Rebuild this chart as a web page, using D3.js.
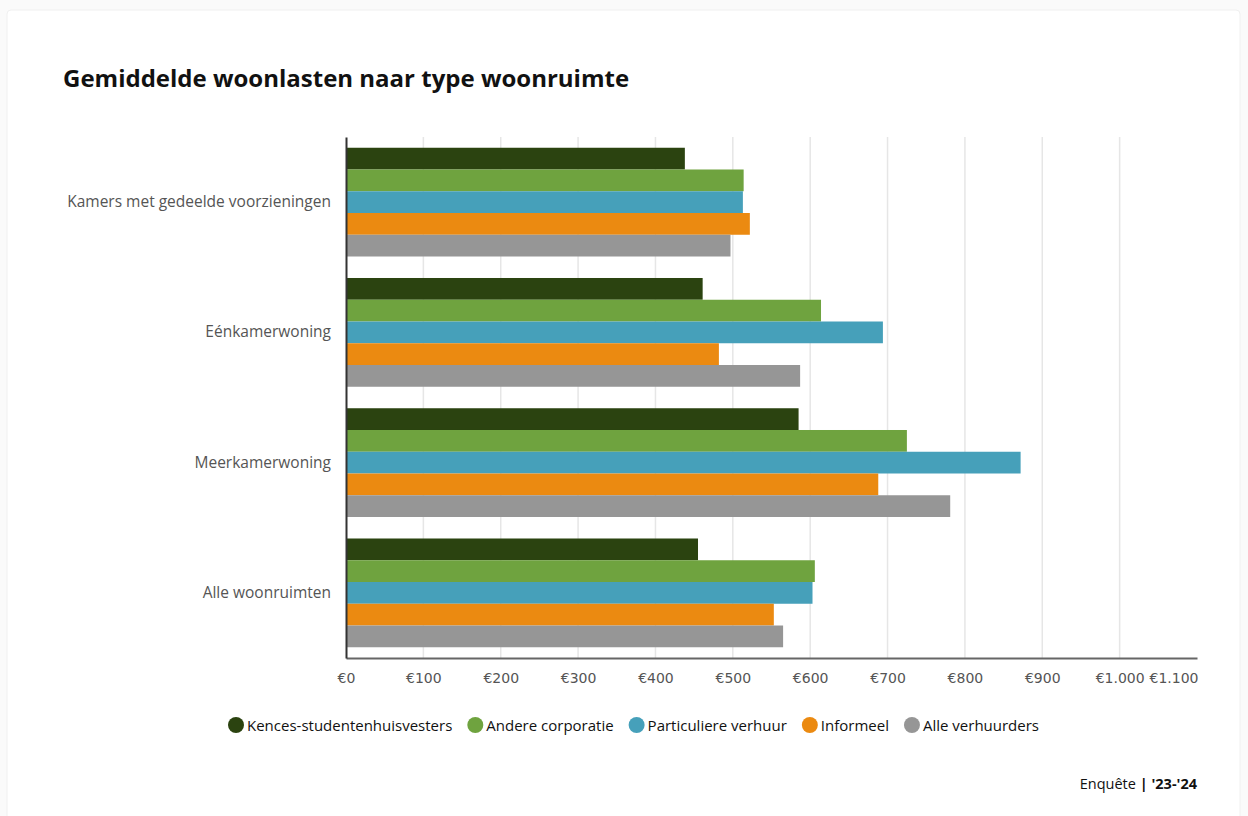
<!DOCTYPE html>
<html>
<head>
<meta charset="utf-8">
<script src="https://cdn.jsdelivr.net/npm/d3@7"></script>
<style>
  body { margin: 0; background: #fafafa; }
  #chart_container { width: 1248px; height: 816px; }
</style>
</head>
<body>
<div id="chart_container"></div>
<script>
// the data
const categories = ["Kamers met gedeelde voorzieningen", "Eénkamerwoning", "Meerkamerwoning", "Alle woonruimten"];
const series = ["Kences-studentenhuisvesters", "Andere corporatie", "Particuliere verhuur", "Informeel", "Alle verhuurders"];
const kences = [438, 461, 585, 455];
const andere = [514, 614, 725, 606];
const particulier = [513, 694, 872, 603];
const informeel = [522, 482, 688, 553];
const alle = [497, 587, 781, 565];
const ticks = [0, 100, 200, 300, 400, 500, 600, 700, 800, 900, 1000, 1100];
const colors = ["#2b4310", "#6fa33f", "#46a0ba", "#eb8a11", "#969696"];

const values = [kences, andere, particulier, informeel, alle];

const width = 1248;
const height = 816;
const font = "'Source Sans Pro', 'Open Sans', 'Noto Sans', sans-serif";

const svg = d3.select("#chart_container")
              .append("svg")
              .attr("width", width)
              .attr("height", height);

// card
svg.append("rect")
   .attr("x", 7).attr("y", 10)
   .attr("width", 1233).attr("height", 820)
   .attr("rx", 4)
   .attr("fill", "white")
   .attr("stroke", "#f0f0f0");

svg.append("text")
   .attr("x", 63).attr("y", 87)
   .attr("font-family", font)
   .attr("font-weight", "bold")
   .attr("font-size", "24px")
   .attr("fill", "#111")
   .text("Gemiddelde woonlasten naar type woonruimte");

// scales
const plot_left = 346, plot_right = 1197, plot_top = 137, plot_bottom = 658;
const x = d3.scaleLinear().domain([0, 1100]).range([plot_left, plot_right]);
const y0 = d3.scaleBand().domain(categories).range([plot_top, plot_bottom]).paddingInner(0.165).paddingOuter(0.0825);
const y1 = d3.scaleBand().domain(series).range([0, y0.bandwidth()]);

// grid (no line at the end of the axis)
svg.append("g")
   .selectAll("line")
   .data(ticks.slice(1, -1))
   .join("line")
   .attr("x1", d => x(d)).attr("x2", d => x(d))
   .attr("y1", plot_top).attr("y2", plot_bottom)
   .attr("stroke", "#e6e6e6")
   .attr("stroke-width", 1.5);

// bars
const groups = svg.append("g")
   .selectAll("g")
   .data(categories)
   .join("g")
   .attr("transform", d => `translate(0,${y0(d)})`);

groups.selectAll("rect")
      .data((c, i) => series.map((s, j) => ({ s: s, v: values[j][i], c: colors[j] })))
      .join("rect")
      .attr("x", x(0))
      .attr("y", d => y1(d.s))
      .attr("width", d => x(d.v) - x(0))
      .attr("height", y1.bandwidth())
      .attr("fill", d => d.c);

// x axis
const xAxis = svg.append("g")
   .attr("transform", `translate(0,${plot_bottom})`)
   .call(d3.axisBottom(x).tickValues(ticks).tickSize(0).tickPadding(15)
           .tickFormat(d => "€" + d3.format(",")(d).replace(/,/g, ".")));
xAxis.select(".domain").attr("stroke", "#666").attr("stroke-width", 2);
xAxis.selectAll("text")
     .attr("font-family", "'DejaVu Sans', sans-serif")
     .attr("font-size", "14px")
     .attr("fill", "#555");
xAxis.selectAll(".tick").filter(d => d === 1100).select("text").attr("text-anchor", "end").attr("dx", "1px");

// y axis
const yAxis = svg.append("g")
   .attr("transform", `translate(${plot_left},0)`)
   .call(d3.axisLeft(y0).tickSize(0).tickPadding(15));
yAxis.select(".domain").attr("stroke", "#333").attr("stroke-width", 2);
yAxis.selectAll("text")
     .attr("font-family", font)
     .attr("font-size", "15.5px")
     .attr("fill", "#555");

// legend
const legend = svg.append("g");
let lx = 228;
series.forEach((s, i) => {
    const item = legend.append("g").attr("transform", `translate(${lx},725)`);
    item.append("circle").attr("cx", 8).attr("cy", 0).attr("r", 8).attr("fill", colors[i]);
    const t = item.append("text")
        .attr("x", 19).attr("y", 5.5)
        .attr("font-family", font)
        .attr("font-size", "15px")
        .attr("fill", "#111")
        .text(s);
    lx += 19 + t.node().getComputedTextLength() + 15;
});

// footer
const foot = svg.append("text")
   .attr("x", 1197).attr("y", 789)
   .attr("text-anchor", "end")
   .attr("font-family", font)
   .attr("font-size", "14.5px")
   .attr("fill", "#111");
foot.append("tspan").text("Enquête ");
foot.append("tspan").attr("font-weight", "bold").text("| '23-'24");
</script>
</body>
</html>
